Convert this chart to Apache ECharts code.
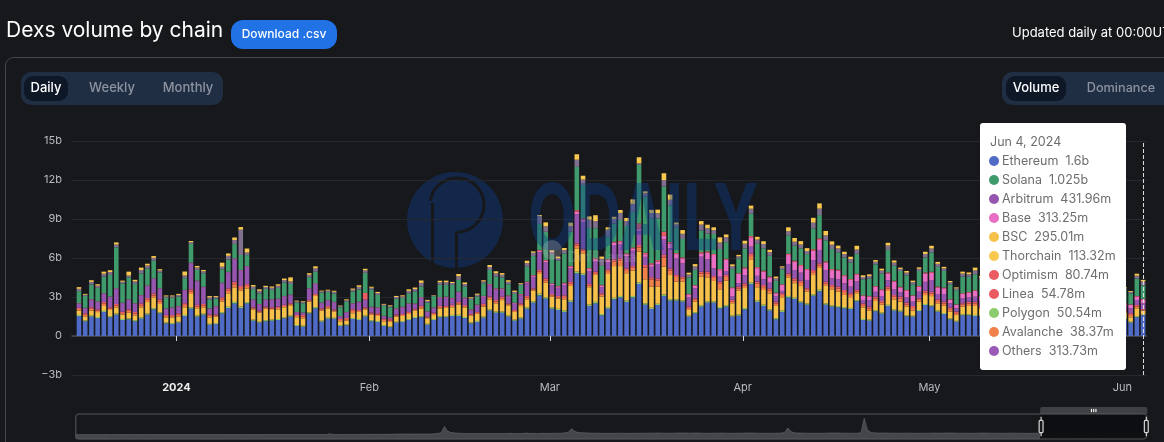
<!DOCTYPE html>
<html><head><meta charset="utf-8">
<script src="https://cdn.jsdelivr.net/npm/echarts@6/dist/echarts.min.js"></script>
<style>html,body{margin:0;padding:0;background:#16181c;overflow:hidden}#c{width:1164px;height:442px}</style>
</head><body><div id="c"></div>
<script>
const yTicks = {"-3":"−3b","0":"0","3":"3b","6":"6b","9":"9b","12":"12b","15":"15b"};
const monthLabels = ["2024","Feb","Mar","Apr","May","Jun"];
const seriesNames = ["Ethereum","Polygon","BSC","Avalanche","Optimism","Arbitrum","Base","Linea","Solana","Others","Thorchain"];
const tooltipRows = [["Ethereum","1.6b"],["Solana","1.025b"],["Arbitrum","431.96m"],["Base","313.25m"],["BSC","295.01m"],["Thorchain","113.32m"],["Optimism","80.74m"],["Linea","54.78m"],["Polygon","50.54m"],["Avalanche","38.37m"],["Others","313.73m"]];
const ethereum = [1.54,1.13,1.49,1.38,1.85,1.44,1.64,1.23,1.28,1.13,
1.33,1.64,2.05,1.74,.97,.92,1.03,1.54,2.10,1.49,
1.64,.87,.92,1.74,2.15,2.51,2.15,2.51,1.18,1.03,
1.13,1.18,1.23,1.36,1.49,.77,.72,1.74,2.13,1.10,
1.33,1.33,.77,.82,1.31,1.23,1.49,1.13,1.08,.77,
.67,1.03,1.08,1.23,1.38,1.44,.87,1.23,1.44,1.44,
1.54,1.54,1.38,.97,1.08,1.41,1.95,1.79,1.79,1.49,
1.18,1.33,2.10,2.56,3.13,2.87,2.10,2.00,1.85,2.62,
4.82,4.69,2.31,2.51,1.59,2.10,2.82,2.97,2.62,2.97,
4.00,2.41,2.08,2.38,3.08,2.72,2.72,2.64,1.49,1.74,
2.26,2.56,2.56,2.13,2.26,1.49,1.56,2.05,4.00,2.62,
2.31,1.95,1.28,1.85,2.97,2.85,2.56,2.41,3.10,3.44,
2.41,2.26,2.21,2.13,2.08,2.67,1.23,1.18,1.90,1.72,
2.31,1.95,1.87,1.51,1.49,1.92,2.38,2.28,1.87,1.69,
1.28,1.10,1.59,1.59,1.54,
1.5,1.7,1.4,1.3,1.6,1.8,1.5,1.4,1.3,1.7,1.9,1.6,1.5,1.2,1.4,1.6,1.7,1.5,1.3,1.2,1.5,1.6,1.4,1.3,
1.03,1.44,1.6];
const polygon = [.08,.07,.08,.08,.08,.08,.09,.08,.08,.08,
.09,.09,.09,.08,.07,.07,.07,.08,.10,.08,
.08,.07,.07,.09,.10,.11,.11,.10,.08,.07,
.08,.08,.08,.08,.08,.07,.07,.08,.09,.08,
.08,.07,.06,.06,.07,.08,.08,.08,.07,.06,
.06,.07,.07,.07,.08,.08,.07,.07,.08,.08,
.08,.09,.08,.07,.08,.08,.09,.09,.09,.09,
.08,.09,.10,.11,.12,.11,.10,.09,.10,.11,
.14,.12,.11,.12,.10,.12,.12,.11,.11,.11,
.13,.11,.10,.10,.12,.11,.10,.10,.08,.09,
.11,.11,.10,.10,.11,.09,.10,.10,.12,.10,
.10,.10,.09,.10,.11,.10,.10,.09,.11,.12,
.10,.09,.09,.09,.08,.08,.08,.08,.08,.08,
.09,.08,.08,.08,.07,.08,.08,.08,.08,.08,
.07,.07,.08,.08,.08,
.08,.08,.08,.07,.08,.09,.08,.07,.07,.08,.09,.08,.08,.07,.07,.08,.08,.08,.07,.07,.08,.08,.07,.07,
.07,.08,.05];
const bsc = [.33,.29,.38,.38,.38,.48,.47,.33,.43,.38,
.78,.88,.83,.64,.39,.44,.39,.59,1.03,.56,
.48,.49,.49,.81,1.03,1.12,1.24,1.05,.79,.70,
.89,.74,.74,.77,.79,.60,.57,.82,.86,.77,
.71,.49,.30,.30,.37,.54,.48,.43,.39,.30,
.35,.39,.39,.39,.48,.59,.42,.31,.59,.64,
.59,.78,.74,.52,.54,.77,.78,.63,.88,.78,
.59,.88,.62,.81,1.52,1.12,.82,.78,.87,1.12,
1.78,1.55,1.33,2.06,1.34,2.55,2.44,2.30,2.10,1.94,
2.36,1.84,1.62,1.31,2.14,1.86,1.36,1.44,.43,.81,
2.2,1.84,1.57,1.36,1.89,.94,1.82,1.54,1.73,1.03,
1.13,1.23,.94,1.03,1.43,1.11,1.18,.91,1.48,1.67,
1.34,1.24,1.12,.94,.82,.54,.89,.69,.71,.61,
1.06,.79,.69,.66,.39,.64,.69,.71,.56,.56,
.52,.44,.59,.64,.69,
.5,.6,.55,.45,.6,.7,.5,.45,.4,.6,.65,.55,.5,.35,.45,.55,.6,.5,.4,.4,.5,.55,.45,.4,
.34,.61,.295];
const avalanche = [.12,.14,.14,.11,.18,.11,.15,.12,.14,.14,
.16,.17,.15,.2,.1,.1,.14,.17,.2,.14,
.14,.12,.1,.18,.2,.24,.18,.18,.08,.08,
.08,.11,.11,.1,.08,.1,.14,.07,.08,.1,
.1,.08,.1,.11,.17,.08,.08,.08,.11,.11,
.11,.08,.08,.08,.08,.11,.07,.1,.11,.08,
.1,.11,.1,.07,.08,.11,.11,.14,.14,.08,
.08,.11,.14,.1,.17,.18,.11,.11,.17,.17,
.22,.22,.14,.14,.14,.22,.34,.4,.24,.22,
.33,.9,.55,.48,.7,.35,.36,.25,.14,.14,
.23,.27,.23,.42,.28,.14,.17,.2,.3,.27,
.22,.22,.19,.17,.17,.22,.24,.14,.22,.2,
.19,.19,.22,.22,.17,.14,.17,.17,.19,.15,
.19,.19,.22,.17,.2,.14,.19,.19,.17,.17,
.19,.14,.14,.19,.19,
.12,.14,.13,.1,.14,.16,.12,.11,.1,.14,.15,.13,.12,.09,.11,.13,.14,.12,.1,.09,.12,.13,.11,.1,
.17,.14,.038];
const optimism = [.09,.12,.12,.10,.13,.10,.11,.11,.12,.12,
.15,.14,.16,.16,.08,.08,.12,.14,.16,.12,
.12,.11,.08,.15,.18,.2,.17,.15,.07,.07,
.07,.1,.1,.08,.07,.08,.12,.06,.07,.08,
.08,.07,.08,.1,.14,.07,.07,.07,.1,.1,
.1,.07,.07,.07,.07,.1,.06,.08,.1,.07,
.08,.1,.08,.06,.07,.1,.1,.12,.12,.07,
.07,.1,.12,.08,.14,.15,.1,.1,.14,.14,
.16,.16,.12,.12,.12,.14,.17,.19,.14,.14,
.18,.2,.17,.16,.2,.16,.15,.13,.12,.12,
.15,.17,.15,.17,.16,.12,.14,.16,.21,.17,
.16,.16,.14,.14,.14,.16,.17,.12,.16,.16,
.14,.14,.16,.16,.14,.12,.14,.14,.14,.13,
.14,.14,.16,.14,.16,.12,.14,.14,.14,.14,
.14,.12,.12,.14,.14,
.1,.12,.11,.09,.11,.13,.1,.09,.09,.12,.12,.11,.1,.08,.09,.11,.12,.1,.09,.08,.1,.11,.09,.09,
.14,.12,.081];
const arbitrum = [.34,.39,.58,.58,.63,.78,1.16,.65,.73,.63,
.6,.92,1.1,.81,.48,.56,.53,.99,1.99,1.82,
1.28,.43,.61,1.09,1.23,1.73,1.18,1.33,.58,.47,
.52,.58,.58,.65,.63,.2,.15,.86,.77,.4,
.42,.55,.2,.43,.42,.6,.58,.41,.41,.18,
.12,.44,.51,.62,.36,.61,.37,.36,.61,.66,
.48,.72,.52,.3,.49,.54,.87,.8,.54,.53,
.48,.62,.98,.89,1.36,1.23,.68,.63,.8,1.03,
2.24,2.03,.99,.81,.47,.56,1.11,1.07,.92,1.18,
1.06,.63,.8,1.11,1.18,1.54,1.28,1.03,.72,.77,
1.15,.95,.59,.38,.26,.26,.26,.64,.51,.44,
.44,.44,.44,.18,.72,.64,.62,.64,.77,1.03,
.9,.51,.56,.51,.51,.64,.26,.51,.38,.38,
.51,.44,.36,.41,.33,.51,.69,.9,.41,.59,
.31,.26,.38,.33,.38,
.4,.45,.38,.3,.42,.5,.4,.35,.3,.45,.48,.4,.38,.28,.33,.42,.45,.38,.3,.28,.38,.4,.33,.3,
.38,.38,.432];
const base = [.02,.02,.03,.03,.03,.03,.04,.03,.03,.03,
.03,.04,.04,.03,.02,.02,.02,.03,.05,.04,
.04,.02,.02,.03,.04,.05,.04,.04,.03,.03,
.03,.03,.03,.03,.03,.02,.02,.03,.04,.03,
.03,.03,.02,.02,.03,.03,.03,.03,.03,.02,
.02,.03,.03,.03,.03,.04,.03,.03,.04,.04,
.04,.05,.05,.04,.05,.06,.07,.07,.07,.06,
.06,.07,.08,.1,.12,.12,.1,.1,.12,.14,
.2,.18,.15,.15,.12,.15,.18,.18,.16,.18,
.22,.2,.18,.2,.28,.38,.33,.38,.2,.2,
.25,.51,1.03,.51,.9,.64,.72,.51,.72,.59,
.59,.41,.21,.46,.69,.64,.51,.77,.72,.77,
.56,.64,.67,.56,.51,.51,.31,.26,.38,.46,
.51,.59,.36,.51,.44,.38,.64,.56,.51,.44,
.26,.26,.33,.36,.44,
.35,.4,.33,.28,.38,.45,.35,.3,.26,.4,.42,.35,.33,.25,.3,.36,.4,.33,.28,.25,.33,.36,.3,.26,
.26,.26,.313];
const linea = [.01,.01,.01,.01,.01,.01,.01,.01,.01,.01,
.01,.01,.01,.01,.01,.01,.01,.01,.01,.01,
.01,.01,.01,.01,.01,.01,.01,.01,.01,.01,
.01,.01,.01,.01,.01,.01,.01,.01,.01,.01,
.01,.01,.01,.01,.01,.01,.51,.02,.02,.01,
.01,.02,.02,.02,.02,.02,.01,.02,.02,.02,
.02,.02,.02,.02,.02,.02,.03,.03,.03,.03,
.02,.03,.04,.04,.06,.06,.04,.04,.05,.06,
.12,.1,.07,.07,.05,.06,.07,.08,.07,.08,
.38,.12,.1,.1,.33,.12,.08,.08,.05,.05,
.1,.1,.08,.08,.08,.06,.06,.08,.1,.08,
.08,.07,.05,.05,.1,.08,.08,.07,.12,.12,
.1,.08,.08,.07,.07,.08,.05,.05,.06,.06,
.08,.07,.05,.06,.05,.06,.08,.08,.07,.06,
.05,.04,.06,.05,.06,
.05,.06,.05,.04,.05,.07,.05,.05,.04,.06,.06,.05,.05,.04,.04,.05,.06,.05,.04,.04,.05,.05,.04,.04,
.04,.05,.055];
const solana = [.92,.92,1.13,1.03,1.28,1.67,3.15,1.49,1.69,1.49,
1.67,1.31,1.36,1.21,.82,.74,.72,.9,1.44,.82,
1.03,.69,.59,1.03,.95,1.1,1.15,.85,.79,.82,
.82,.72,.82,1.03,.82,.72,.72,.85,.9,.77,
.62,.64,.67,.79,.9,.95,1.54,1.33,.95,.77,
.77,.74,.67,.77,.92,.82,.67,.87,.95,.9,
1,.9,.82,.72,.62,.97,1.08,.9,.85,.85,
.67,.69,1.15,1.46,2,2.18,2.18,1.95,2.26,2.64,
3.33,2.56,3.08,2.31,1.46,1.74,1.41,1.62,2.1,2.74,
4.5,4.31,3.46,3.21,3.46,2.82,1.97,1.41,1.28,1.15,
1.67,1.36,1.54,1.54,1.28,1.41,1.13,1.46,1.72,1.79,
1.72,1.59,.9,1.15,1.41,1.15,1.28,1.15,1.59,1.79,
1.62,1.54,1.33,1.36,1.28,1.54,1.23,1.33,1.67,1.23,
1.74,1.15,1.21,1.13,.85,1.15,1.15,1.49,1.51,1.28,
1.15,1.1,1.28,1.18,1.23,
1.2,1.3,1.1,.95,1.25,1.4,1.15,1.0,.9,1.3,1.35,1.2,1.1,.85,1.0,1.2,1.3,1.1,.95,.9,1.1,1.2,1.0,.95,
.85,1.33,1.025];
const others = [.18,.08,.2,.17,.22,.22,.22,.12,.14,.19,
.26,.22,.22,.16,.11,.11,.13,.2,.13,.19,
.16,.16,.11,.2,.28,.31,1.95,.2,.19,.19,
.14,.16,.17,.19,.2,.09,.09,.19,.25,.09,
.11,.13,.08,.11,.14,.19,.19,.13,.14,.09,
.09,.13,.13,.19,.19,.28,.13,.05,.19,.2,
.14,.28,.2,.13,.14,.14,.23,.25,.2,.19,
.16,.09,.28,.25,.6,.42,.23,.19,.25,.42,
.55,.42,.65,.55,.55,.55,.35,.55,.38,.6,
.12,.25,.4,.4,.5,.42,.23,.4,.22,.28,
.45,.42,.3,.5,.38,.22,.17,.36,.38,.33,
.33,.28,.2,.14,.32,.3,.3,.24,.45,.5,
.38,.33,.3,.26,.26,.33,.18,.2,.2,.22,
.33,.25,.16,.2,.17,.17,.27,.3,.23,.19,
.16,.13,.23,.2,.3,
.2,.22,.18,.15,.2,.25,.2,.18,.15,.22,.24,.2,.18,.14,.16,.2,.22,.18,.15,.14,.18,.2,.16,.15,
.11,.23,.314];
const thorchain = [.13,.07,.13,.11,.16,.14,.16,.09,.3,.12,
.18,.14,.14,.1,.07,.07,.08,.31,.1,.12,
.1,.1,.07,.31,.18,.2,.2,.31,.12,.12,
.09,.1,.11,.12,.31,.06,.06,.12,.16,.06,
.07,.08,.05,.07,.09,.12,.12,.08,.09,.06,
.06,.08,.08,.12,.12,.18,.08,.03,.12,.13,
.09,.18,.13,.08,.09,.09,.15,.16,.13,.12,
.1,.06,.18,.11,.09,.3,.15,.12,.16,.27,
.42,.3,.25,.45,.17,.17,.16,.22,.24,.35,
.47,.16,.24,.27,.53,.4,.15,.29,.14,.18,
.27,.27,.21,.4,.21,.14,.11,.23,.24,.21,
.21,.18,.13,.09,.3,.29,.26,.22,.37,.4,
.34,.26,.21,.18,.18,.29,.13,.13,.13,.14,
.21,.16,.1,.13,.11,.11,.17,.21,.15,.12,
.1,.08,.15,.13,.21,
.12,.14,.11,.1,.13,.16,.12,.11,.1,.14,.15,.12,.11,.09,.1,.12,.14,.11,.1,.09,.11,.12,.1,.1,
.07,.15,.113];
const historyTotal = [.02,.02,.03,.02,.02,.03,.02,.03,.02,.03,.03,.02,.03,.03,.04,.03,.03,.04,.03,.04,
.04,.03,.04,.05,.04,.04,.05,.04,.05,.05,.05,.06,.05,.06,.05,.06,.06,.07,.06,.07,
.07,.06,.08,.07,.07,.08,.08,.07,.09,.08,.09,.1,.09,.1,.1,.11,.1,.12,.11,.12,
.13,.14,.13,.14,
.4,.5,.5,.4,.3,.4,.6,.5,.4,.5,.6,.5,.6,.7,.5,.4,2.6,.7,.6,.5,.6,.7,.7,.8,.7,.8,.9,.8,.9,1,1,.9,1.1,1,1.2,1.1,1.6,1.7,1.8,1.9,2,2.1,1.9,1.8,2.2,2.3,2.2,2.1,2.4,3,4.2,6,
27,
12,7,6,5,4.5,4,3.6,3.5,3.8,3.6,3.4,3.6,3.8,3.6,3.5,3.7,4,3.8,3.7,4,4.2,4,3.8,3.9,4.2,5.2,4.1,4,3.9,4,4.3,4.1,4,4.4,4.8,4.5,5,6,8,
20,
11,7,6.6,6,5.6,5.2,5,4.8,4.6,4.4,4.2,4.3,4.4,4.6,4.8,4.6,4.2,4.4,4.6,4.5,4.4,4.6,5,4.9,4.8,5,5.4,5.2,4.8,4.7,4.6,4.9,5.2,5.4,5.6,5.2,5,5.2,5.4,5.2,4.8,4.6,4.4,4.6,4.8,5,5.2,5,4.8,4.6,4.4,4.6,4.8,5,5.2,5.4,5.3,5,4.8,4.6,4.5,4.4,4.6,4.8,5,5.4,7,
22,
10,6,5.4,5.2,5,4.8,4.6,4.5,4.4,4.5,4.8,4.9,5.2,5.4,5.6,5.2,5,4.8,4.6,4.5,4.8,5,6,
54,
16,8,6,5.4,5.2,5.3,5.2,5,4.8,4.7,4.6,4.8,5,4.8,4.8,4.6,4.4,4.6,4.6,4.8,5,5.2,4.8,4.8,5.2,5.3,5.4,5.2,5,4.8,4.6,4.7,4.4,4.5,4.8,5,5.2,5.1,5,4.8,4.6,4.7,4.4,4.6,4.8,4.9,5,4.8,4.6,4.5,4.2,4.3,4.4,4.5,4.6,4.8,5,4.9,4.8,4.6,4.4,4.5,4.6,4.8,5.2,5.4,5.6,5.3,5,4.9,4.8,4.7,4.6,4.8,5,4.7,4.4,4.3,4.2,4.4,4.6,4.3,4.5,4.6,4.8,5,5.2,5,4.8];
const historyLabels = historyTotal.map((v,i)=>String(i));

const dates = [];
for (let d = new Date(2023,11,16,8); dates.length < 172; d = new Date(d.getFullYear(),d.getMonth(),d.getDate()+1,8)) dates.push(d.getTime());
const stackValues = [ethereum,polygon,bsc,avalanche,optimism,arbitrum,base,linea,solana,others,thorchain];
stackValues.forEach((a,i)=>{ if(a.length!==172) throw new Error(seriesNames[i]+' has '+a.length); });
const colors = {Ethereum:"#4f6bc6",Polygon:"#8ccb6e",BSC:"#f5c14a",Avalanche:"#f0814a",Optimism:"#ea5c62",Arbitrum:"#9656b0",Base:"#e86fc4",Linea:"#ea5c62",Solana:"#3f9a6c",Others:"#80708e",Thorchain:"#f9c84e"};
const dotColors = Object.assign({},colors,{Others:"#9b59b6"});
const F = "Inter, 'Noto Sans', sans-serif";

const chart = echarts.init(document.getElementById('c'),null,{renderer:'canvas'});
const txt=(text,x,y,fill,font,align)=>({type:'text',z:5,style:{text,x,y,fill,font:font+' '+F,textAlign:align||'center',textVerticalAlign:'middle'}});
const rect=(x,y,w,h,r,fill,stroke)=>({type:'rect',z:-2,shape:{x,y,width:w,height:h,r},style:{fill,stroke:stroke||null,lineWidth:1}});
chart.setOption({
  animation:false,
  backgroundColor:'#16181c',
  title:{text:'Dexs volume by chain',left:6,top:20,padding:0,textStyle:{fontFamily:F,fontSize:21,fontWeight:400,color:'#fff'}},
  grid:[{left:72,top:141,width:1074.5,height:234},{left:75,top:414,width:1072,height:26,show:false}],
  xAxis:[{type:'time',gridIndex:0,
      min:new Date(2023,11,15,14,0).getTime(),max:new Date(2024,5,4,12,15).getTime(),
      minInterval:28*864e5,splitNumber:6,
      axisLine:{onZero:true,lineStyle:{color:'#4a4d55',width:1.5}},
      axisTick:{show:true,length:5,lineStyle:{color:'#d8d8d8'}},
      splitLine:{show:false},
      axisLabel:{margin:7,color:'#b9bbbf',fontFamily:F,fontSize:11,hideOverlap:false,
        formatter:v=>{const m=new Date(v).getMonth();return m===0?'{y|'+monthLabels[0]+'}':(monthLabels[m]||'');},
        rich:{y:{color:'#eee',fontWeight:'bold',fontFamily:F,fontSize:11}}},
      axisPointer:{show:true,type:'line',snap:true,label:{show:false},lineStyle:{color:'#ddd',type:'dashed',width:1}}},
    {type:'category',gridIndex:1,data:historyLabels,show:false,axisPointer:{show:false}}],
  yAxis:[{type:'value',gridIndex:0,min:-3,max:15,interval:3,
      axisLabel:{margin:10,color:'#b9bbbf',fontFamily:F,fontSize:11,formatter:v=>yTicks[String(v)]},
      axisLine:{show:false},axisTick:{show:false},
      splitLine:{lineStyle:{color:'#26282d',width:1}}},
    {type:'value',gridIndex:1,show:false}],
  tooltip:{trigger:'axis',alwaysShowContent:true,showDelay:0,transitionDuration:0,
    position:[980,123],padding:0,borderWidth:0,backgroundColor:'#fff',
    extraCssText:'width:146px;height:247px;border-radius:3px;box-shadow:none;box-sizing:border-box;',
    formatter:()=>{
      let h='<div style="padding:9px 0 0 10px;font:12.5px/19px '+F.replace(/'/g,'&quot;')+';color:#6e6e6e;white-space:nowrap">Jun 4, 2024';
      tooltipRows.forEach(r=>{h+='<div style="height:19px"><span style="display:inline-block;width:10px;height:10px;border-radius:50%;margin-right:3px;margin-left:-1px;vertical-align:-1px;background:'+dotColors[r[0]]+'"></span>'+r[0]+'&nbsp;&nbsp;'+r[1]+'</div>';});
      return h+'</div>';
    }},
  dataZoom:[{type:'slider',xAxisIndex:1,start:90,end:100,left:72.5,width:1072,top:407,height:26,
    showDetail:false,brushSelect:true,realtime:false,
    borderColor:'#55575c',borderRadius:3,backgroundColor:'rgba(0,0,0,0)',
    fillerColor:'rgba(8,8,10,.6)',
    dataBackground:{lineStyle:{color:'#6a6c72',width:.6},areaStyle:{color:'#45464b',opacity:1}},
    selectedDataBackground:{lineStyle:{color:'#222',width:.6},areaStyle:{color:'#1b1c1f',opacity:1}},
    moveHandleSize:7,moveHandleStyle:{color:'#66686c'},
    handleSize:'75%',handleStyle:{color:'#16181c',borderColor:'#d5d5d5',borderWidth:1.2}}],
  graphic:[
    rect(5.5,57.5,1300,500,8,'#16181c','#45474d'),
    {type:'circle',z:-1,shape:{cx:455,cy:220,r:48},style:{fill:'#122749'}},
    {type:'arc',z:-1,shape:{cx:457,cy:205,r:27,startAngle:-Math.PI*0.95,endAngle:Math.PI*0.5},style:{stroke:'#16181c',lineWidth:3,fill:null}},
    {type:'rect',z:-1,shape:{x:431,y:203,width:3,height:64},style:{fill:'#16181c'}},
    {type:'rect',z:-1,shape:{x:455,y:232,width:3,height:37},style:{fill:'#16181c'}},
    {type:'text',z:50,silent:true,x:528,y:222,scaleX:.68,scaleY:1,style:{text:'ODAILY',x:0,y:0,fill:'rgba(13,62,140,.4)',font:'bold 92px '+F,textVerticalAlign:'middle',textAlign:'left'}},
    {type:'circle',z:50,shape:{cx:552,cy:250,r:10},style:{fill:'rgba(190,190,190,.28)'}},
    txt('DefiLlama',602,258,'rgba(190,190,190,.22)','bold 14px'),
    rect(231,20,106,29,12,'#2172e5'),
    txt('Download .csv',284,34.5,'#fff','500 12px'),
    txt('Updated daily at 00:00UTC',1012,33,'#fff','13px','left'),
    rect(21,72,202,33,10,'#202e44'),
    rect(24,76,44,25,9,'#0e1726'),
    txt('Daily',46,88.5,'#fff','500 13px'),
    txt('Weekly',112,88.5,'#8c93a0','500 13px'),
    txt('Monthly',188,88.5,'#8c93a0','500 13px'),
    rect(1002,72,200,33,10,'#202e44'),
    rect(1006,76,60,25,9,'#0e1726'),
    txt('Volume',1036,88.5,'#fff','500 13px'),
    txt('Dominance',1121,88.5,'#8c93a0','500 12.7px')
  ],
  series:seriesNames.map((n,i)=>({name:n,type:'bar',stack:'total',xAxisIndex:0,yAxisIndex:0,barWidth:4.6,
      itemStyle:{color:colors[n]},emphasis:{disabled:true},
      data:dates.map((d,j)=>[d,stackValues[i][j]])}))
    .concat([{name:'History',type:'line',xAxisIndex:1,yAxisIndex:1,data:historyTotal,showSymbol:false,silent:true,
      lineStyle:{opacity:0},itemStyle:{opacity:0},tooltip:{show:false}}])
});
chart.dispatchAction({type:'showTip',seriesIndex:0,dataIndex:171});
</script></body></html>
